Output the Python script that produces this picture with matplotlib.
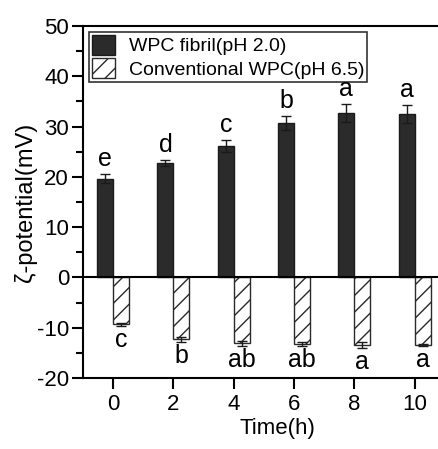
import matplotlib
matplotlib.use("Agg")
import matplotlib.pyplot as plt
import numpy as np
from matplotlib.ticker import MultipleLocator

plt.rcParams["font.family"] = ["Liberation Sans", "DejaVu Sans"]
plt.rcParams["hatch.linewidth"] = 1.0
plt.rcParams["axes.unicode_minus"] = False

times = [0, 2, 4, 6, 8, 10]
fibril = [19.6, 22.8, 26.1, 30.8, 32.7, 32.5]
fibril_err = [0.9, 0.6, 1.2, 1.4, 1.8, 1.7]
fibril_letters = ["e", "d", "c", "b", "a", "a"]
conv = [-9.3, -12.3, -13.1, -13.2, -13.4, -13.5]
conv_err = [0.3, 0.5, 0.5, 0.4, 0.6, 0.2]
conv_letters = ["c", "b", "ab", "ab", "a", "a"]

fig = plt.figure(figsize=(4.38, 4.49), dpi=100)
# axes runs past the right edge, as in the cropped original
ax = fig.add_axes([0.1895, 0.158, 0.888, 0.784])

x = np.array(times, dtype=float)
w = 0.53
ax.bar(x - w / 2, fibril, width=w, color="#2b2b2b", edgecolor="#1a1a1a",
       linewidth=1.0, label="WPC fibril(pH 2.0)",
       yerr=fibril_err, error_kw=dict(ecolor="#1a1a1a", elinewidth=1.0, capsize=3.5, capthick=1.0))
ax.bar(x + w / 2, conv, width=w, color="white", edgecolor="#2a2a2a",
       linewidth=1.0, hatch="//", label="Conventional WPC(pH 6.5)",
       yerr=conv_err, error_kw=dict(ecolor="#1a1a1a", elinewidth=1.0, capsize=3.5, capthick=1.0))

for xi, v, e, s in zip(x, fibril, fibril_err, fibril_letters):
    ax.text(xi - w / 2, v + e + 0.6, s, ha="center", va="bottom", fontsize=18)
for xi, v, e, s in zip(x, conv, conv_err, conv_letters):
    ax.text(xi + w / 2, v - e - 0.4, s, ha="center", va="top", fontsize=18)

ax.axhline(0, color="black", linewidth=1.5)
ax.set_xlim(-1, 11.9)
ax.set_ylim(-20, 50)
ax.set_xticks(times)
ax.yaxis.set_major_locator(MultipleLocator(10))
ax.yaxis.set_minor_locator(MultipleLocator(5))
ax.tick_params(axis="both", which="major", direction="out", length=8, width=1.5, labelsize=16)
ax.tick_params(axis="y", which="minor", direction="out", length=5, width=1.5)
ax.tick_params(axis="y", which="major", pad=2)
for sp in ax.spines.values():
    sp.set_linewidth(1.5)

ax.set_xlabel("Time(h)", fontsize=16, labelpad=2)
ax.set_ylabel("ζ-potential(mV)", fontsize=17, labelpad=0)

leg = ax.legend(loc="upper left", fontsize=14, frameon=True, fancybox=False,
                edgecolor="black", borderaxespad=0.3, handlelength=1.2,
                handleheight=1.2, handletextpad=0.7, borderpad=0.15, labelspacing=0.15)
leg.get_frame().set_linewidth(1.2)

fig.savefig("out.png", dpi=100)
